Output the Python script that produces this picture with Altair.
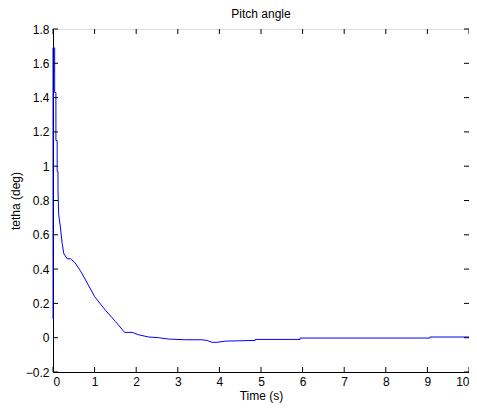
import altair as alt
import pandas as pd

# Data
time_s = [0.0, 0.0, 0.04, 0.04, 0.07, 0.07, 0.10, 0.10, 0.12, 0.12,
          0.136, 0.18, 0.22, 0.26, 0.34, 0.42, 0.52, 0.66, 0.82, 1.0,
          1.26, 1.5, 1.72, 1.9, 2.06, 2.3, 2.54, 2.78, 3.18, 3.58,
          3.7, 3.82, 3.94, 4.14, 4.46, 4.86, 4.86, 5.94, 5.94, 9.06, 9.06, 10.0]
tetha_deg = [0.11, 1.69, 1.69, 1.43, 1.43, 1.15, 1.15, 0.97, 0.97, 0.86,
             0.72, 0.64, 0.55, 0.49, 0.46, 0.46, 0.44, 0.39, 0.32, 0.24,
             0.16, 0.095, 0.031, 0.031, 0.017, 0.004, 0.0, -0.008, -0.012, -0.012,
             -0.016, -0.027, -0.027, -0.02, -0.018, -0.016, -0.01, -0.01, -0.002, -0.002, 0.004, 0.004]

x_ticks = [0, 1, 2, 3, 4, 5, 6, 7, 8, 9, 10]
y_ticks = [-0.2, 0, 0.2, 0.4, 0.6, 0.8, 1.0, 1.2, 1.4, 1.6, 1.8]

W, H = 416, 343
TL = 5

df = pd.DataFrame({"t": time_s, "v": tetha_deg, "order": list(range(len(time_s)))})
xt = pd.DataFrame({"t": x_ticks})
yt = pd.DataFrame({"v": y_ticks})

xscale = alt.Scale(domain=[0, 10], nice=False, zero=False)
yscale = alt.Scale(domain=[-0.2, 1.8], nice=False, zero=False)

font = "Liberation Sans"
FS = 12

xaxis = alt.Axis(title="Time (s)", values=x_ticks, tickSize=0, labelPadding=4,
                 grid=False, domainColor="black", labelColor="black",
                 titleColor="black", labelFontSize=FS, titleFontSize=FS,
                 titleFontWeight="normal", labelFont=font, titleFont=font,
                 titlePadding=3, format="d", labelOverlap=False, labelBound=False)
yaxis = alt.Axis(title="tetha (deg)", values=y_ticks, tickSize=0, labelPadding=4,
                 grid=False, domainColor="black", labelColor="black",
                 titleColor="black", labelFontSize=FS, titleFontSize=FS,
                 titleFontWeight="normal", labelFont=font, titleFont=font,
                 titlePadding=3, labelOverlap=False,
                 labelExpr="datum.value == 0 ? '0' : (datum.value == 1 ? '1' : format(datum.value, '.1f'))")

line = alt.Chart(df).mark_line(color="#0000FF", strokeWidth=1).encode(
    x=alt.X("t:Q", scale=xscale, axis=xaxis),
    y=alt.Y("v:Q", scale=yscale, axis=yaxis),
    order="order:Q",
)

bx = alt.Chart(xt).mark_rule(color="black", strokeWidth=1).encode(
    x=alt.X("t:Q", scale=xscale, axis=xaxis), y=alt.value(H - TL), y2=alt.value(H))
tx = alt.Chart(xt).mark_rule(color="black", strokeWidth=1).encode(
    x=alt.X("t:Q", scale=xscale, axis=xaxis), y=alt.value(0), y2=alt.value(TL))
ly = alt.Chart(yt).mark_rule(color="black", strokeWidth=1).encode(
    y=alt.Y("v:Q", scale=yscale, axis=yaxis), x=alt.value(0), x2=alt.value(TL))
ry = alt.Chart(yt).mark_rule(color="black", strokeWidth=1).encode(
    y=alt.Y("v:Q", scale=yscale, axis=yaxis), x=alt.value(W - TL), x2=alt.value(W))

chart = alt.layer(line, bx, tx, ly, ry).properties(
    width=W, height=H,
    title=alt.TitleParams("Pitch angle", fontSize=FS, fontWeight="normal", font=font,
                          color="black", offset=2),
    autosize=alt.AutoSizeParams(type="none"),
    padding={"left": 45, "top": 21, "right": 0, "bottom": 34},
).configure_view(stroke="black", strokeWidth=1).configure(background="white")

chart.save("out.html", embed_options={"renderer": "svg", "actions": False})
